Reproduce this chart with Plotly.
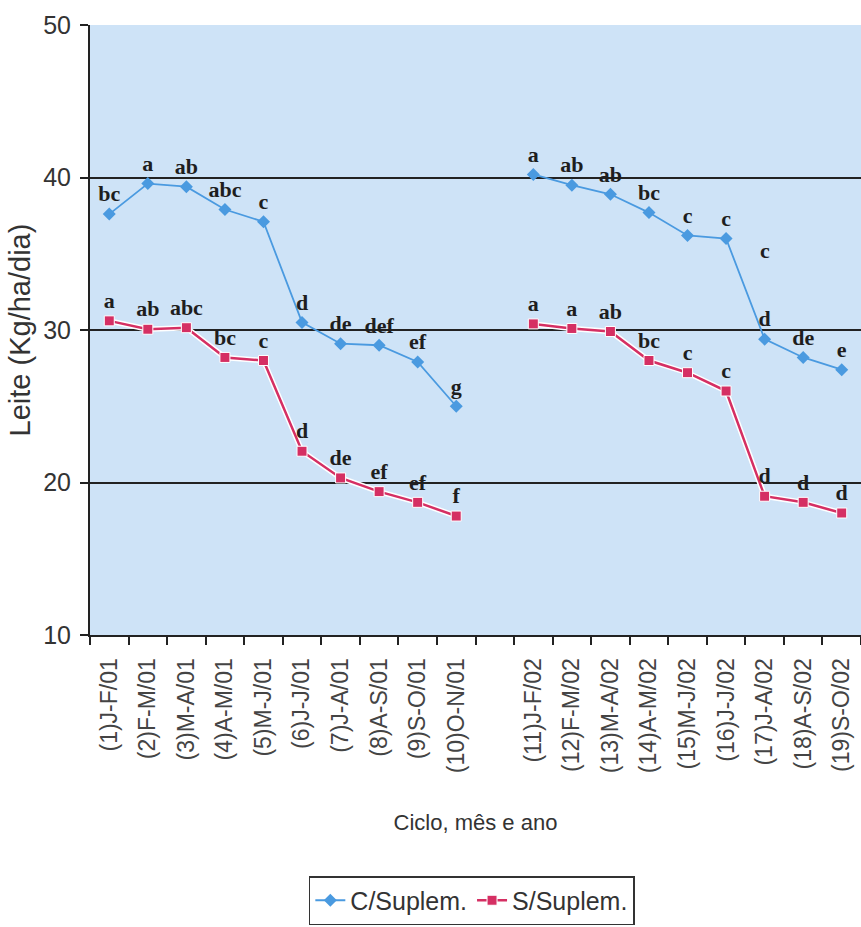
import plotly.graph_objects as go

# Ciclos de pastejo (mês e ano)
ciclos_2001 = ["(1)J-F/01", "(2)F-M/01", "(3)M-A/01", "(4)A-M/01", "(5)M-J/01",
               "(6)J-J/01", "(7)J-A/01", "(8)A-S/01", "(9)S-O/01", "(10)O-N/01"]
ciclos_2002 = ["(11)J-F/02", "(12)F-M/02", "(13)M-A/02", "(14)A-M/02", "(15)M-J/02",
               "(16)J-J/02", "(17)J-A/02", "(18)A-S/02", "(19)S-O/02"]

# Produção de leite (kg/ha/dia)
com_suplem_2001 = [37.6, 39.6, 39.4, 37.9, 37.1, 30.5, 29.1, 29.0, 27.9, 25.0]
com_suplem_2002 = [40.2, 39.5, 38.9, 37.7, 36.2, 36.0, 29.4, 28.2, 27.4]
sem_suplem_2001 = [30.6, 30.05, 30.15, 28.2, 28.0, 22.05, 20.3, 19.4, 18.7, 17.8]
sem_suplem_2002 = [30.4, 30.1, 29.9, 28.0, 27.2, 26.0, 19.1, 18.7, 18.0]

# Letras do teste de médias
letras_com_2001 = ["bc", "a", "ab", "abc", "c", "d", "de", "def", "ef", "g"]
letras_com_2002 = ["a", "ab", "ab", "bc", "c", "c", "d", "de", "e"]
letras_sem_2001 = ["a", "ab", "abc", "bc", "c", "d", "de", "ef", "ef", "f"]
letras_sem_2002 = ["a", "a", "ab", "bc", "c", "c", "d", "d", "d"]

# letra avulsa junto ao ciclo 17
letra_extra = "c"
letra_extra_ciclo = "(17)J-A/02"
letra_extra_valor = 35.2

# intervalo vazio entre os dois anos
separador = " "
categorias = ciclos_2001 + [separador] + ciclos_2002
com_suplem = com_suplem_2001 + [None] + com_suplem_2002
sem_suplem = sem_suplem_2001 + [None] + sem_suplem_2002
letras_com = letras_com_2001 + [""] + letras_com_2002
letras_sem = letras_sem_2001 + [""] + letras_sem_2002

AZUL = "#4a9ae0"
VERMELHO = "#d52f63"
FUNDO = "#cee3f7"
letra_font = dict(family="Liberation Serif", size=22, color="#1e1e1e", weight="bold")

fig = go.Figure()

# contorno branco sob a linha sem suplementação
fig.add_trace(go.Scatter(
    x=categorias, y=sem_suplem, mode="lines", connectgaps=False,
    line=dict(color="white", width=5.5), hoverinfo="skip", showlegend=False,
))

fig.add_trace(go.Scatter(
    x=categorias, y=com_suplem, name="C/Suplem.", mode="lines+markers+text",
    connectgaps=False,
    line=dict(color=AZUL, width=1.8),
    marker=dict(symbol="diamond", size=10, color=AZUL),
    text=letras_com, textposition="top center", textfont=letra_font,
))

fig.add_trace(go.Scatter(
    x=categorias, y=sem_suplem, name="S/Suplem.", mode="lines+markers+text",
    connectgaps=False,
    line=dict(color=VERMELHO, width=2.5),
    marker=dict(symbol="square", size=10, color=VERMELHO,
                line=dict(color="white", width=1)),
    text=letras_sem, textposition="top center", textfont=letra_font,
))

fig.add_annotation(
    x=letra_extra_ciclo, y=letra_extra_valor, text=letra_extra,
    showarrow=False, font=letra_font,
)

fig.update_layout(
    width=861, height=927,
    margin=dict(l=90, r=0, t=25, b=292),
    paper_bgcolor="white",
    plot_bgcolor=FUNDO,
    font=dict(family="Liberation Sans", color="#333333"),
    showlegend=True,
    legend=dict(
        orientation="h",
        xref="container", yref="container",
        x=0.548, xanchor="center",
        y=1 - 876 / 927, yanchor="top",
        bgcolor="white", bordercolor="#333333", borderwidth=1.5,
        font=dict(family="Liberation Sans", size=25, color="#333333"),
        itemwidth=30,
    ),
)

fig.update_xaxes(
    type="category",
    categoryorder="array", categoryarray=categorias,
    range=[-0.5, len(categorias) - 0.5],
    tickson="boundaries",
    ticks="outside", ticklen=8, tickwidth=1.5, tickcolor="#222222",
    tickangle=-90,
    tickfont=dict(family="Liberation Sans", size=23, color="#444444"),
    ticklabelstandoff=12,
    showline=True, linecolor="#222222", linewidth=2,
    showgrid=False, zeroline=False,
    title=dict(text="Ciclo, mês e ano",
               font=dict(family="Liberation Sans", size=22, color="#333333"),
               standoff=42),
)

fig.update_yaxes(
    range=[10, 50], dtick=10,
    ticks="outside", ticklen=8, tickwidth=1.5, tickcolor="#222222",
    tickfont=dict(family="Liberation Sans", size=25, color="#333333"),
    ticklabelstandoff=4,
    showline=True, linecolor="#222222", linewidth=2,
    showgrid=True, gridcolor="#222222", gridwidth=2,
    zeroline=False,
    title=dict(text="Leite (Kg/ha/dia)",
               font=dict(family="Liberation Sans", size=29, color="#333333"),
               standoff=4),
)

fig.write_html("out.html")
